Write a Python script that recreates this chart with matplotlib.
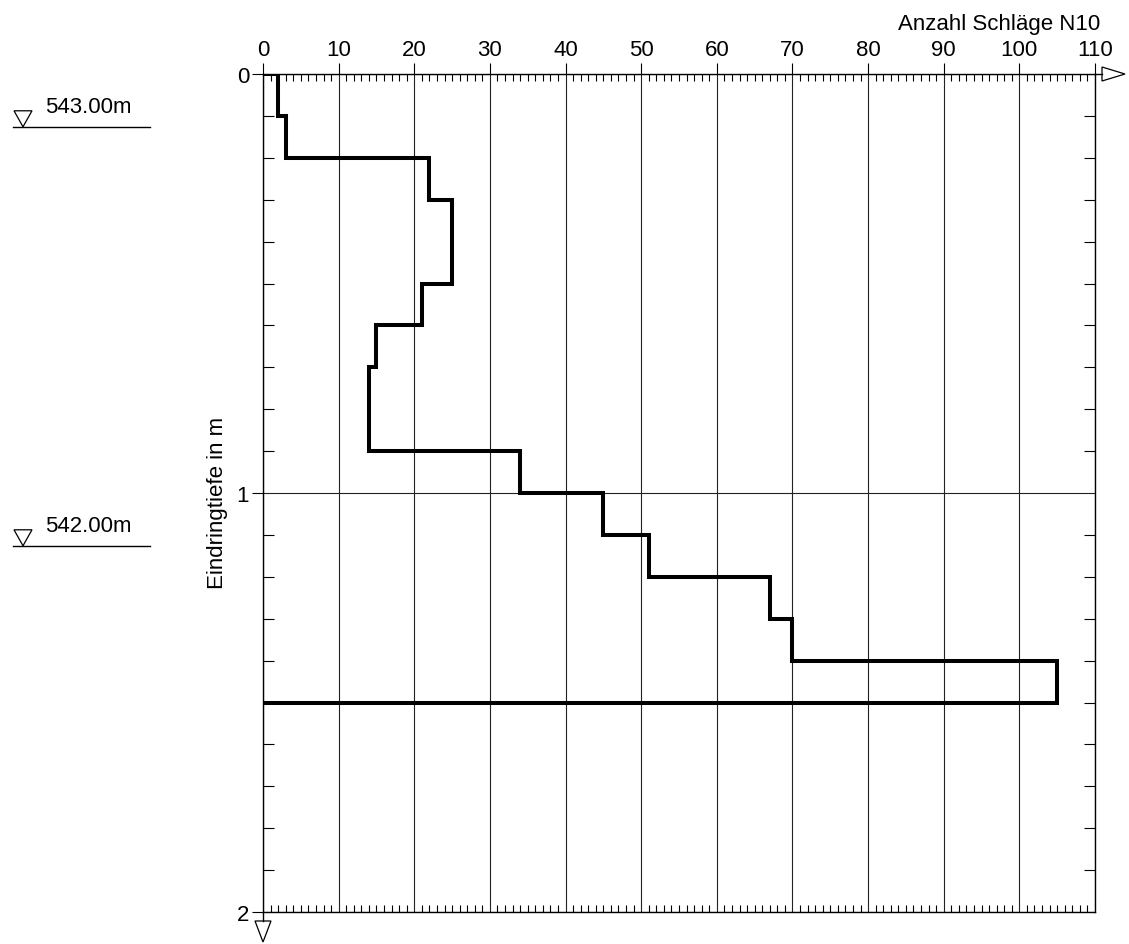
import numpy as np
import matplotlib
matplotlib.use('Agg')
import matplotlib.pyplot as plt
from matplotlib.patches import Polygon
import matplotlib.transforms as mtransforms

plt.rcParams['font.family'] = ['Liberation Sans', 'DejaVu Sans']

# depth intervals (m) and blow counts N10 per interval
depth_edges = [0.0, 0.1, 0.2, 0.3, 0.4, 0.5, 0.6, 0.7, 0.8, 0.9, 1.0, 1.1, 1.2, 1.3, 1.4, 1.5]
blows = [2, 3, 22, 25, 25, 21, 15, 14, 14, 34, 45, 51, 67, 70, 105]

# elevation markers on the left
ground_elev = 543.126
marker_elevs = [543.00, 542.00]
marker_labels = ['543.00m', '542.00m']

# build step outline
xs = [0]
ys = [0]
for i, b in enumerate(blows):
    xs += [b, b]
    ys += [depth_edges[i], depth_edges[i + 1]]
xs.append(0)
ys.append(depth_edges[-1])

W, H = 1129, 945
fig = plt.figure(figsize=(W / 100, H / 100), dpi=100)
ax = fig.add_axes([263 / W, 1 - 913 / H, (1095 - 263) / W, (913 - 75) / H])

ax.set_xlim(0, 110)
ax.set_ylim(2, 0)

# grid
ax.set_xticks(np.arange(0, 111, 10))
ax.set_xticks(np.arange(0, 111, 1), minor=True)
ax.set_yticks([0, 1, 2])
ax.set_yticks(np.arange(0, 2.01, 0.1), minor=True)
ax.grid(which='major', color='#222222', linewidth=0.8)
ax.set_axisbelow(True)

ax.xaxis.tick_top()
ax.tick_params(axis='x', which='major', top=True, bottom=False, direction='out',
               length=8, width=0.8, labelsize=16, labeltop=True, labelbottom=False, pad=2)
ax.tick_params(axis='x', which='minor', top=True, bottom=True, direction='in',
               length=5, width=0.8)
ax.tick_params(axis='y', which='major', left=True, right=False, direction='out',
               length=8, width=0.8, labelsize=16, pad=2)
ax.tick_params(axis='y', which='minor', left=True, right=True, direction='in',
               length=8, width=0.8)
ax.set_yticklabels(['0', '1', '2'])

for s in ax.spines.values():
    s.set_linewidth(1.0)

ax.plot(xs, ys, color='black', linewidth=2.9, solid_joinstyle='miter', zorder=5)

# labels
ax.text(1.006, 1.0537, 'Anzahl Schläge N10', transform=ax.transAxes, ha='right',
        va='baseline', fontsize=16)
ax.set_ylabel('Eindringtiefe in m', fontsize=16)
ax.yaxis.set_label_coords(-0.042, 0.489)

# axis arrows (outline triangles)
px = 1 / 832.0
py = 1 / 838.0
ax.plot([1.0, 1.0 + 7 * px], [1.0, 1.0], color='black', lw=1.0,
        transform=ax.transAxes, clip_on=False)
ax.add_patch(Polygon([[1.0 + 7 * px, 1.0 + 7 * py], [1.0 + 30 * px, 1.0],
                      [1.0 + 7 * px, 1.0 - 7 * py]], closed=True, fill=False,
                     edgecolor='black', lw=0.9, transform=ax.transAxes, clip_on=False))
ax.plot([0, 0], [0, -9 * py], color='black', lw=1.0,
        transform=ax.transAxes, clip_on=False)
ax.add_patch(Polygon([[-8 * px, -9 * py], [8 * px, -9 * py], [0, -30 * py]],
                     closed=True, fill=False, edgecolor='black', lw=0.9,
                     transform=ax.transAxes, clip_on=False))

# elevation markers
trans = mtransforms.blended_transform_factory(ax.transAxes, ax.transData)
for elev, lab in zip(marker_elevs, marker_labels):
    d = ground_elev - elev
    ax.plot([-250 * px, -113 * px], [d, d], color='black', lw=1.0,
            transform=trans, clip_on=False)
    tri = Polygon([[-249 * px, d - 16 / 419.0], [-231 * px, d - 16 / 419.0], [-240 * px, d]],
                  closed=True, fill=False, edgecolor='black', lw=0.9,
                  transform=trans, clip_on=False)
    ax.add_patch(tri)
    ax.text(-218 * px, d - 15 / 419.0, lab, transform=trans, ha='left', va='baseline',
            fontsize=16)

fig.savefig('out.png', dpi=100)
